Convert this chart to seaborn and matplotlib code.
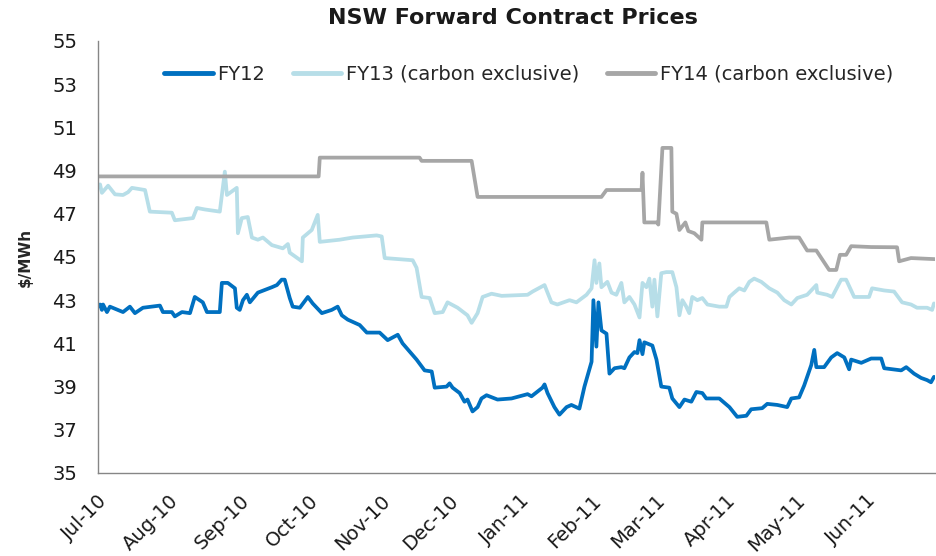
import numpy as np
import pandas as pd
import matplotlib
matplotlib.use("Agg")
import matplotlib.pyplot as plt
import seaborn as sns

# days since 1 Jul 2010
fy12_day = [0, 0.9, 1.7, 2.2, 3.9, 5.2, 10.9, 13.9, 16.1, 19.6, 27, 28.3, 32.2, 33.5, 36.6, 40.1,
            42.2, 45.7, 47.5, 53.1, 54, 56.6, 59.7, 60.5, 61.8, 63.2, 64.9, 66.2, 69.7, 75.8, 78,
            80.1, 81.4, 83.6, 84.9, 88, 91.5, 93.6, 97.6, 101.9, 104.5, 106.3, 108.9, 114.1, 117.2,
            122.8, 126.3, 130.7, 132.8, 138.9, 142.4, 145.5, 146.8, 152, 153.3, 154.6, 157.7, 159.8,
            161.1, 163.3, 165.5, 167.2, 169.4, 174.2, 180.3, 187.3, 189, 193.8, 194.7, 196, 199,
            201.2, 204.3, 206.4, 209.9, 212.1, 215.2, 216, 217.3, 218.2, 219.5, 221.7, 223, 225.2,
            228.2, 229.5, 231.7, 233.9, 235.2, 236.1, 237.4, 238.2, 241.7, 243.5, 245.6, 249.1,
            250.4, 253.5, 255.7, 258.7, 260.9, 263.5, 265.2, 270.9, 275.3, 278.7, 282.7, 284.8,
            289.6, 291.8, 296.2, 300.5, 302.3, 305.7, 307.9, 311, 312.3, 313.2, 316.6, 319.7, 322.3,
            325.4, 327.5, 328.4, 332.8, 337.1, 341.5, 342.8, 350.2, 352.4, 355.8, 358.9, 361.5,
            363.2, 364.5]
fy12_price = [42.7, 42.8, 42.55, 42.8, 42.45, 42.7, 42.45, 42.7, 42.4, 42.65, 42.75, 42.45, 42.45,
              42.25, 42.45, 42.4, 43.15, 42.9, 42.45, 42.45, 43.8, 43.8, 43.55, 42.65, 42.55, 43.0,
              43.25, 42.9, 43.35, 43.6, 43.7, 43.95, 43.95, 43.1, 42.7, 42.65, 43.15, 42.85, 42.4,
              42.55, 42.7, 42.3, 42.1, 41.85, 41.5, 41.5, 41.15, 41.4, 41.0, 40.25, 39.75, 39.7,
              38.95, 39.0, 39.15, 38.95, 38.7, 38.3, 38.4, 37.85, 38.05, 38.45, 38.6, 38.4, 38.45,
              38.65, 38.55, 38.95, 39.1, 38.7, 38.05, 37.7, 38.05, 38.15, 37.98, 39.0, 40.15, 43.0,
              40.85, 42.9, 41.6, 41.45, 39.6, 39.85, 39.9, 39.85, 40.35, 40.6, 40.55, 41.15, 40.5,
              41.05, 40.9, 40.25, 39.0, 38.95, 38.45, 38.05, 38.4, 38.3, 38.75, 38.7, 38.45, 38.45,
              38.05, 37.6, 37.65, 37.95, 38.0, 38.2, 38.15, 38.05, 38.45, 38.5, 39.05, 40.0, 40.7,
              39.9, 39.9, 40.35, 40.55, 40.35, 39.8, 40.25, 40.1, 40.3, 40.3, 39.85, 39.75, 39.9,
              39.6, 39.4, 39.3, 39.2, 39.45]

fy13_day = [0, 0.9, 1.7, 4.4, 7.4, 10.9, 13.1, 14.8, 20.5, 22.6, 32.2, 33.5, 41.4, 43.1, 46.6, 53.1,
            55.3, 56.2, 60.5, 61, 62.7, 65.3, 67.1, 69.7, 71.9, 75.8, 80.6, 82.8, 83.6, 88.9, 89.3,
            93.2, 95.8, 96.7, 105.4, 111.1, 121.5, 123.7, 125, 137.2, 138.9, 141.1, 144.6, 146.8,
            150.3, 152.4, 156.8, 161.1, 162.9, 165.5, 167.7, 171.6, 176, 187.3, 189.5, 194.7, 196,
            197.7, 200.3, 205.6, 208.6, 213, 215.2, 216.5, 217.3, 218.6, 219.5, 222.1, 223.9, 226,
            228.2, 229.5, 231.7, 233.9, 236.1, 237.4, 239.1, 240.4, 241.7, 242.6, 243.9, 245.6,
            247.8, 250.4, 252.2, 253.5, 254.8, 256.5, 257.8, 259.1, 261.3, 263.5, 265.7, 270.9, 274,
            275.3, 277.4, 279.6, 281.8, 284, 286.1, 289.2, 292.7, 296.2, 299.2, 302.3, 304.9, 309.2,
            313.2, 313.6, 317.9, 320.1, 324, 326.2, 329.7, 336.2, 337.5, 342.8, 347.1, 350.6, 354.5,
            357.1, 361.5, 363.7, 364.5]
fy13_price = [48.2, 48.36, 47.97, 48.3, 47.9, 47.87, 48.0, 48.2, 48.1, 47.1, 47.05, 46.7, 46.8,
              47.27, 47.2, 47.1, 48.95, 47.87, 48.2, 46.1, 46.8, 46.85, 45.9, 45.8, 45.9, 45.55,
              45.4, 45.6, 45.2, 44.8, 45.9, 46.25, 46.95, 45.7, 45.8, 45.9, 46.0, 45.95, 44.95,
              44.85, 44.5, 43.15, 43.1, 42.4, 42.45, 42.9, 42.65, 42.3, 41.95, 42.4, 43.15, 43.3,
              43.2, 43.25, 43.4, 43.7, 43.35, 42.9, 42.8, 43.0, 42.9, 43.25, 43.55, 44.85, 43.8,
              44.7, 43.6, 43.85, 43.35, 43.25, 43.8, 42.9, 43.15, 42.8, 42.2, 43.8, 43.6, 44.0,
              42.7, 43.95, 42.25, 44.25, 44.3, 44.3, 43.6, 42.3, 43.0, 42.7, 42.4, 43.15, 43.0,
              43.1, 42.8, 42.7, 42.7, 43.15, 43.35, 43.55, 43.45, 43.85, 44.0, 43.85, 43.55, 43.35,
              43.0, 42.8, 43.1, 43.25, 43.7, 43.35, 43.25, 43.15, 43.95, 43.95, 43.15, 43.15, 43.55,
              43.45, 43.4, 42.9, 42.8, 42.65, 42.65, 42.55, 42.85]

fy14_day = [0, 96.2, 96.7, 140.2, 141.1, 162.9, 165.5, 219.5, 221.7, 237.0, 237.4, 238.2, 243.9,
            244.3, 246.1, 250.0, 250.4, 252.2, 253.5, 256.1, 257.4, 260.0, 263.1, 263.5, 291.4,
            292.7, 301.4, 305.7, 309.2, 313.2, 318.8, 321.9, 323.5, 326.2, 328.4, 337.1, 348.4,
            349.3, 354.5, 365]
fy14_price = [48.73, 48.73, 49.6, 49.6, 49.45, 49.45, 47.78, 47.78, 48.1, 48.1, 48.9, 46.6, 46.6,
              46.5, 50.05, 50.05, 47.1, 47.0, 46.25, 46.6, 46.2, 46.1, 45.8, 46.6, 46.6, 45.8,
              45.9, 45.9, 45.3, 45.3, 44.4, 44.4, 45.1, 45.1, 45.5, 45.46, 45.45, 44.8, 44.95, 44.9]

series_names = ["FY12", "FY13 (carbon exclusive)", "FY14 (carbon exclusive)"]
series_colors = ["#0070C0", "#B7DEE8", "#A6A6A6"]

start = pd.Timestamp("2010-07-01")
frames = []
for name, days, prices in zip(series_names,
                              [fy12_day, fy13_day, fy14_day],
                              [fy12_price, fy13_price, fy14_price]):
    frames.append(pd.DataFrame({
        "date": start + pd.to_timedelta(days, unit="D"),
        "price": prices,
        "series": name,
    }))
df = pd.concat(frames, ignore_index=True)

sns.set_theme(style="white")
plt.rcParams["font.family"] = ["DejaVu Sans"]

fig = plt.figure(figsize=(9.37, 5.56), dpi=100)
ax = fig.add_axes([0.1046, 0.1493, 0.8934, 0.7770])

sns.lineplot(data=df, x="date", y="price", hue="series", hue_order=series_names,
             palette=series_colors, sort=False, estimator=None, linewidth=2.7, ax=ax)

ax.set_ylim(35, 55)
ax.set_yticks(np.arange(35, 56, 2))
ax.set_xlim(start, pd.Timestamp("2011-07-01"))
month_ticks = pd.date_range("2010-07-01", "2011-07-01", freq="MS")
ax.set_xticks(month_ticks)
ax.set_xticklabels([d.strftime("%b-%y") for d in month_ticks[:-1]] + [""],
                   rotation=45, ha="right", rotation_mode="anchor")

for side in ["top", "right"]:
    ax.spines[side].set_visible(False)
for side in ["left", "bottom"]:
    ax.spines[side].set_color("#868686")
    ax.spines[side].set_linewidth(1.0)
ax.tick_params(axis="both", which="major", direction="out", length=7, width=1,
               color="#868686", labelsize=14, labelcolor="#1a1a1a")
ax.tick_params(axis="y", pad=8)
ax.tick_params(axis="x", pad=6)

ax.set_xlabel("")
ax.set_ylabel("$/MWh", fontsize=11, fontweight="bold", labelpad=14)
fig.text(0.5475, 0.968, "NSW Forward Contract Prices", ha="center", va="center",
         fontsize=16, fontweight="bold", color="#1a1a1a")

leg = ax.legend(loc="upper left", bbox_to_anchor=(0.058, 0.985), ncol=3, frameon=False,
                fontsize=14, handlelength=2.5, handletextpad=0.25, columnspacing=1.4)
for line in leg.get_lines():
    line.set_linewidth(3.5)

fig.savefig("out.png", dpi=100)
